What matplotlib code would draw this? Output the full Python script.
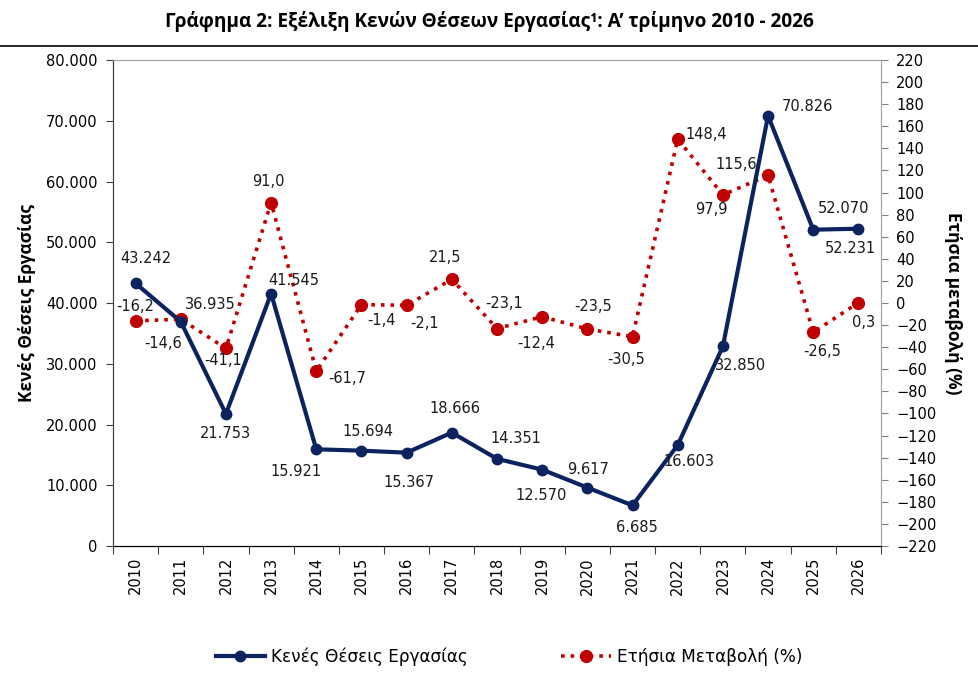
import numpy as np
import matplotlib
matplotlib.use('Agg')
import matplotlib.pyplot as plt
from matplotlib.ticker import FuncFormatter, FixedLocator

years = [str(y) for y in range(2010, 2027)]
vacancies = [43242, 36935, 21753, 41545, 15921, 15694, 15367, 18666, 14351,
             12570, 9617, 6685, 16603, 32850, 70826, 52070, 52231]
change = [-16.2, -14.6, -41.1, 91.0, -61.7, -1.4, -2.1, 21.5, -23.1,
          -12.4, -23.5, -30.5, 148.4, 97.9, 115.6, -26.5, 0.3]

# label offsets in pixels (dx, dy up)
vac_off = [(10, 25), (30, 17), (0, -20), (23, 13), (-20, -22), (6, 19), (2, -30),
           (3, 24), (19, 20), (-1, -26), (1, 18), (4, -22), (11, -16), (18, -19),
           (39, 9), (30, 21), (-8, -20)]
chg_off = [(0, 14), (-18, -24), (-3, -12), (-3, 21), (31, -7), (20, -16), (18, -18),
           (-7, 22), (7, 25), (-6, -27), (6, 22), (-6, -23), (29, 5), (-12, -15),
           (-32, 11), (9, -19), (5, -20)]

navy = '#0D2360'
red = '#C00000'
plt.rcParams['font.family'] = 'DejaVu Sans'

fig = plt.figure(figsize=(9.79, 6.82), dpi=100)
ax = fig.add_axes([0.1154, 0.1994, 0.7845, 0.7126])
ax2 = ax.twinx()

x = np.arange(len(years))
ax.plot(x, vacancies, '-o', color=navy, lw=3, ms=7.5, label='Κενές Θέσεις Εργασίας')
ax2.plot(x, change, ':o', color=red, lw=2.6, ms=8.5, label='Ετήσια Μεταβολή (%)')
ax.set_zorder(ax2.get_zorder() + 1)
ax.patch.set_visible(False)

ax.set_xlim(-0.5, len(years) - 0.5)
ax.set_ylim(0, 80000)
ax2.set_ylim(-220, 220)
ax.set_yticks(np.arange(0, 80001, 10000))
ax2.set_yticks(np.arange(-220, 221, 20))
ax.yaxis.set_major_formatter(FuncFormatter(lambda v, p: f'{int(v):,}'.replace(',', '.')))

ax.xaxis.set_major_locator(FixedLocator(np.arange(-0.5, len(years), 1)))
ax.set_xticklabels([])
ax.set_xticks(x, minor=True)
ax.set_xticklabels(years, minor=True, rotation=90, fontsize=10.5)
ax.tick_params(axis='x', which='minor', length=0, pad=8)
ax.tick_params(axis='x', which='major', length=6, color='#404040')
ax.tick_params(axis='y', labelsize=10.5, length=5, color='#404040', pad=6)
ax2.tick_params(axis='y', labelsize=10.5, length=5, color='#808080', pad=6)

for a in (ax, ax2):
    a.spines['top'].set_color('#A6A6A6')
    a.spines['right'].set_color('#A6A6A6')
    a.spines['left'].set_color('#404040')
    a.spines['bottom'].set_color('#000000')

for i, v in enumerate(vacancies):
    ax.annotate(f'{v:,}'.replace(',', '.'), (x[i], v), xytext=vac_off[i],
                textcoords='offset pixels', ha='center', va='center', fontsize=10.5,
                color='#1a1a1a')
for i, c in enumerate(change):
    ax2.annotate(f'{c:.1f}'.replace('.', ','), (x[i], c), xytext=chg_off[i],
                 textcoords='offset pixels', ha='center', va='center', fontsize=10.5,
                 color='#1a1a1a')

ax.set_ylabel('Κενές Θέσεις Εργασίας', fontsize=12.5, fontweight='bold',
              family='Open Sans', labelpad=7)
ax2.set_ylabel('Ετήσια μεταβολή (%)', fontsize=12.5, fontweight='bold',
               family='Open Sans', rotation=270, labelpad=18)

fig.text(0.5, 0.969, 'Γράφημα 2: Εξέλιξη Κενών Θέσεων Εργασίας¹: Α’ τρίμηνο 2010 - 2026',
         ha='center', va='center', fontsize=13.7, fontweight='bold', family='Open Sans')
fig.add_artist(plt.Line2D([0, 1], [0.933, 0.933], color='black', lw=1.2,
                          transform=fig.transFigure))

h1, l1 = ax.get_legend_handles_labels()
h2, l2 = ax2.get_legend_handles_labels()
fig.legend(h1 + h2, l1 + l2, loc='center', bbox_to_anchor=(0.52, 0.037), ncol=2,
           frameon=False, fontsize=12.2, columnspacing=5.5, handlelength=2.9,
           handletextpad=0.4)

plt.savefig('out.png', dpi=100)
